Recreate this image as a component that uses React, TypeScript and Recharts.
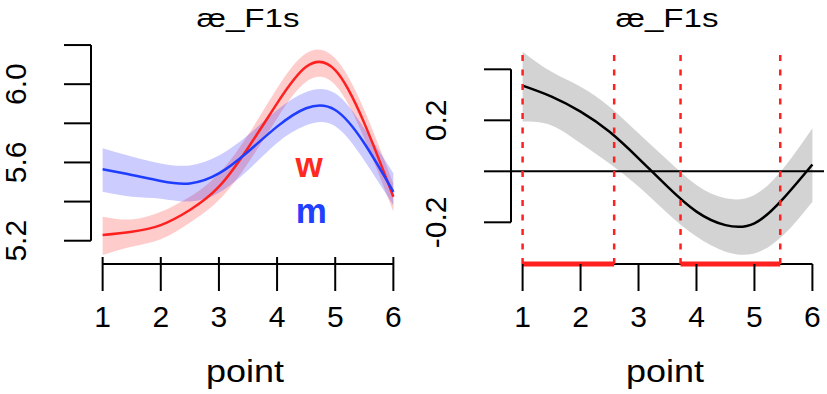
import React from 'react';
import { ComposedChart, Line, Area, XAxis, YAxis, ReferenceLine, ReferenceDot } from 'recharts';

// smooths along "point" at half steps
const points = [1, 1.5, 2, 2.5, 3, 3.5, 4, 4.5, 5, 5.5, 6];

const wFit = [5.229, 5.246, 5.28, 5.357, 5.476, 5.674, 5.902, 6.089, 6.072, 5.801, 5.425];
const wLower = [5.127, 5.169, 5.207, 5.292, 5.408, 5.596, 5.825, 6.012, 5.996, 5.723, 5.348];
const wUpper = [5.323, 5.309, 5.348, 5.425, 5.544, 5.74, 5.979, 6.158, 6.132, 5.868, 5.491];

const mFit = [5.565, 5.536, 5.505, 5.493, 5.544, 5.655, 5.783, 5.877, 5.868, 5.698, 5.45];
const mLower = [5.45, 5.425, 5.415, 5.4, 5.445, 5.56, 5.7, 5.79, 5.785, 5.61, 5.38];
const mUpper = [5.672, 5.63, 5.595, 5.585, 5.635, 5.74, 5.868, 5.96, 5.953, 5.775, 5.545];

// difference curve (w - m)
const diffFit = [0.336, 0.293, 0.234, 0.155, 0.051, -0.06, -0.158, -0.211, -0.204, -0.106, 0.027];
const diffLower = [0.195, 0.18, 0.11, 0.031, -0.06, -0.164, -0.256, -0.315, -0.322, -0.25, -0.119];
const diffUpper = [0.469, 0.39, 0.332, 0.253, 0.149, 0.044, -0.054, -0.106, -0.093, 0.012, 0.169];

// significant stretches
const sigStart = [1.0, 3.725];
const sigEnd = [2.58, 5.445];

const xTicks = [1, 2, 3, 4, 5, 6];
const leftYTicks = [5.2, 5.4, 5.6, 5.8, 6.0, 6.2];
const leftYLabels = ['5.2', '5.6', '6.0'];
const rightYTicks = [-0.2, 0, 0.2, 0.4];
const rightYLabels = ['-0.2', '0.2'];

const wLabelPos = { x: 4.55, y: 5.527 };
const mLabelPos = { x: 4.59, y: 5.289 };

const X_DOMAIN: [number, number] = [0.8, 6.2];
const LEFT_DOMAIN: [number, number] = [5.081, 6.19];
const RIGHT_DOMAIN: [number, number] = [-0.3635, 0.4875];

const FONT = '"Liberation Sans", Arial, Helvetica, sans-serif';
const RED = '#ff2020';
const BLUE = '#1f3dff';

const leftData = points.map((p, i) => ({
  point: p,
  w: wFit[i],
  wBand: [wLower[i], wUpper[i]],
  m: mFit[i],
  mBand: [mLower[i], mUpper[i]],
}));

const rightData = points.map((p, i) => ({
  point: p,
  diff: diffFit[i],
  diffBand: [diffLower[i], diffUpper[i]],
}));

// x tick: (x, y) is the tick's spot on the axis line
const XTick = (props: any) => {
  const { x, y, payload, up } = props;
  return (
    <g>
      <line x1={x} x2={x} y1={y - up} y2={y + 27} stroke="#000" strokeWidth={2} />
      <text x={x} y={y + 63} textAnchor="middle" fontSize={30} fontFamily={FONT} fill="#000">
        {payload.value}
      </text>
    </g>
  );
};

const YTick = (props: any) => {
  const { x, y, payload, labels } = props;
  const txt = Number(payload.value).toFixed(1);
  const tx = x - 65;
  return (
    <g>
      <line x1={x - 27} x2={x} y1={y} y2={y} stroke="#000" strokeWidth={2} />
      {labels.includes(txt) && (
        <text x={tx} y={y} transform={`rotate(-90 ${tx} ${y})`} textAnchor="middle" fontSize={30} fontFamily={FONT} fill="#000">
          {txt}
        </text>
      )}
    </g>
  );
};

const BigLetter = (props: any) => (
  <text x={props.cx} y={props.cy} textAnchor="middle" fontSize={35} fontWeight="bold" fontFamily={FONT} fill={props.color}>
    {props.letter}
  </text>
);

const LeftPanel = () => (
  <ComposedChart width={413} height={394} data={leftData} margin={{ top: 47, right: 8, bottom: 129, left: 90 }}>
    <XAxis
      type="number"
      dataKey="point"
      domain={X_DOMAIN}
      ticks={xTicks}
      allowDataOverflow
      interval={0}
      height={1}
      tickSize={0}
      tickMargin={0}
      axisLine={false}
      tickLine={false}
      tick={(p: any) => <XTick {...p} up={7} />}
    />
    <YAxis
      type="number"
      domain={LEFT_DOMAIN}
      ticks={leftYTicks}
      allowDataOverflow
      interval={0}
      width={1}
      tickSize={0}
      tickMargin={0}
      axisLine={false}
      tickLine={false}
      tick={(p: any) => <YTick {...p} labels={leftYLabels} />}
    />
    <Area dataKey="wBand" type="natural" stroke="none" fill="#ff0000" fillOpacity={0.2} isAnimationActive={false} activeDot={false} />
    <Area dataKey="mBand" type="natural" stroke="none" fill="#0000ff" fillOpacity={0.2} isAnimationActive={false} activeDot={false} />
    <Line dataKey="w" type="natural" stroke={RED} strokeWidth={2.5} dot={false} activeDot={false} isAnimationActive={false} />
    <Line dataKey="m" type="natural" stroke={BLUE} strokeWidth={2.5} dot={false} activeDot={false} isAnimationActive={false} />
    <ReferenceLine
      segment={[{ x: X_DOMAIN[0], y: leftYTicks[0] }, { x: X_DOMAIN[0], y: leftYTicks[leftYTicks.length - 1] }]}
      stroke="#000"
      strokeWidth={2}
      ifOverflow="visible"
    />
    <ReferenceLine
      segment={[{ x: xTicks[0], y: LEFT_DOMAIN[0] }, { x: xTicks[xTicks.length - 1], y: LEFT_DOMAIN[0] }]}
      stroke="#000"
      strokeWidth={2}
      ifOverflow="visible"
    />
    <ReferenceDot x={wLabelPos.x} y={wLabelPos.y} r={0} ifOverflow="visible" shape={(p: any) => <BigLetter {...p} letter="w" color="#ff2a1f" />} />
    <ReferenceDot x={mLabelPos.x} y={mLabelPos.y} r={0} ifOverflow="visible" shape={(p: any) => <BigLetter {...p} letter="m" color="#1f40ff" />} />
  </ComposedChart>
);

const RightPanel = () => (
  <ComposedChart width={414} height={394} data={rightData} margin={{ top: 47, right: 3, bottom: 129, left: 97 }}>
    <XAxis
      type="number"
      dataKey="point"
      domain={X_DOMAIN}
      ticks={xTicks}
      allowDataOverflow
      interval={0}
      height={1}
      tickSize={0}
      tickMargin={0}
      axisLine={false}
      tickLine={false}
      tick={(p: any) => <XTick {...p} up={0} />}
    />
    <YAxis
      type="number"
      domain={RIGHT_DOMAIN}
      ticks={rightYTicks}
      allowDataOverflow
      interval={0}
      width={1}
      tickSize={0}
      tickMargin={0}
      axisLine={false}
      tickLine={false}
      tick={(p: any) => <YTick {...p} labels={rightYLabels} />}
    />
    <Area dataKey="diffBand" type="natural" stroke="none" fill="#d3d3d3" fillOpacity={1} isAnimationActive={false} activeDot={false} />
    <ReferenceLine y={0} stroke="#000" strokeWidth={2} />
    <Line dataKey="diff" type="natural" stroke="#000" strokeWidth={2.5} dot={false} activeDot={false} isAnimationActive={false} />
    <ReferenceLine
      segment={[{ x: X_DOMAIN[0], y: rightYTicks[0] }, { x: X_DOMAIN[0], y: rightYTicks[rightYTicks.length - 1] }]}
      stroke="#000"
      strokeWidth={2}
      ifOverflow="visible"
    />
    <ReferenceLine
      segment={[{ x: xTicks[0], y: RIGHT_DOMAIN[0] }, { x: xTicks[xTicks.length - 1], y: RIGHT_DOMAIN[0] }]}
      stroke="#000"
      strokeWidth={2}
      ifOverflow="visible"
    />
    {[...sigStart, ...sigEnd].map((v) => (
      <ReferenceLine key={`v-${v}`} x={v} stroke={RED} strokeWidth={2.5} strokeDasharray="6 8.5" />
    ))}
    {sigStart.map((s, i) => (
      <ReferenceLine
        key={`sig-${i}`}
        segment={[{ x: s, y: RIGHT_DOMAIN[0] }, { x: sigEnd[i], y: RIGHT_DOMAIN[0] }]}
        stroke={RED}
        strokeWidth={5}
        ifOverflow="visible"
      />
    ))}
  </ComposedChart>
);

export default function App() {
  return (
    <div style={{ position: 'absolute', left: 0, top: 0, width: 827, height: 394, background: '#fff', fontFamily: FONT }}>
      <div style={{ position: 'absolute', left: 0, top: 0 }}>
        <LeftPanel />
      </div>
      <div style={{ position: 'absolute', left: 413, top: 0 }}>
        <RightPanel />
      </div>
      <svg width={827} height={394} style={{ position: 'absolute', left: 0, top: 0, pointerEvents: 'none' }}>
        <text x={248} y={27} textAnchor="middle" fontSize={26} fontFamily={FONT} textLength={103} lengthAdjust="spacingAndGlyphs">æ_F1s</text>
        <text x={667} y={27} textAnchor="middle" fontSize={26} fontFamily={FONT} textLength={103} lengthAdjust="spacingAndGlyphs">æ_F1s</text>
        <text x={245} y={382} textAnchor="middle" fontSize={31} fontFamily={FONT} textLength={78} lengthAdjust="spacingAndGlyphs">point</text>
        <text x={665} y={382} textAnchor="middle" fontSize={31} fontFamily={FONT} textLength={78} lengthAdjust="spacingAndGlyphs">point</text>
      </svg>
    </div>
  );
}
